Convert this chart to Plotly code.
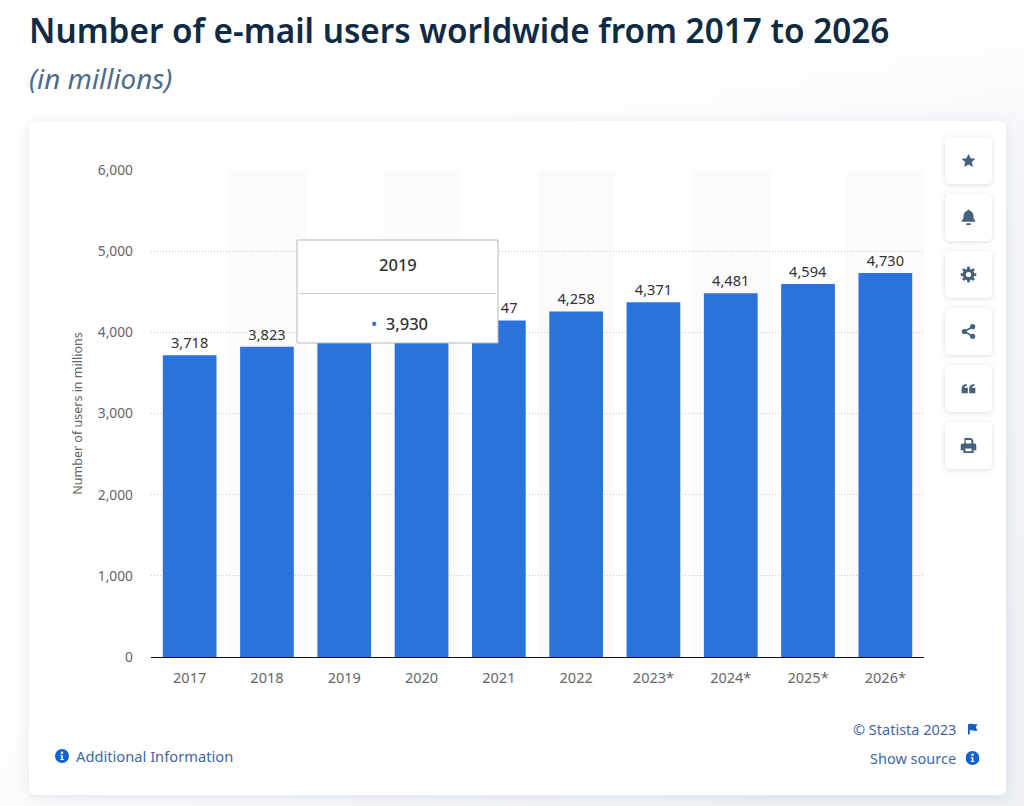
import base64
import plotly.graph_objects as go

years = ["2017", "2018", "2019", "2020", "2021", "2022", "2023*", "2024*", "2025*", "2026*"]
users = [3718, 3823, 3930, 4037, 4147, 4258, 4371, 4481, 4594, 4730]
y_ticks = [0, 1000, 2000, 3000, 4000, 5000, 6000]
y_tick_labels = ["0", "1,000", "2,000", "3,000", "4,000", "5,000", "6,000"]

W, H = 1024, 806
L, R, T, B = 151, 100, 170, 149
PW, PH = W - L - R, H - T - B
FONT = "Noto Sans"
BLUE = "#2b73dc"
LINK = "#3f67a8"
ICON = "#46607f"
button_tops = [137, 194, 251, 308, 365, 422]


def uri(svg):
    return "data:image/svg+xml;base64," + base64.b64encode(svg.encode()).decode()


def px(x):
    return (x - L) / PW


def py(y):
    return 1 - (y - T) / PH


def place(source, x, y, w, h, layer="above", sizing="contain"):
    return dict(source=source, xref="paper", yref="paper", x=px(x), y=py(y), sizex=w / PW, sizey=h / PH,
                xanchor="left", yanchor="top", layer=layer, sizing=sizing)


buttons = "".join(
    f'<rect x="945" y="{t}" width="47" height="47" rx="5" fill="#fff" filter="url(#s)"/>' for t in button_tops
)
background = f'''<svg xmlns="http://www.w3.org/2000/svg" width="{W}" height="{H}" viewBox="0 0 {W} {H}">
<defs>
<linearGradient id="g" x1="0" y1="0" x2="1" y2="0.75"><stop offset="0.35" stop-color="#ffffff"/><stop offset="1" stop-color="#eff1f6"/></linearGradient>
<linearGradient id="h" x1="0" y1="0" x2="0" y2="1"><stop offset="0" stop-color="#ffffff"/><stop offset="0.18" stop-color="#ffffff" stop-opacity="0"/></linearGradient>
<filter id="c" x="-5%" y="-5%" width="110%" height="110%"><feDropShadow dx="0" dy="2" stdDeviation="7" flood-color="#8090a8" flood-opacity="0.22"/></filter>
<filter id="s" x="-30%" y="-30%" width="160%" height="160%"><feDropShadow dx="0" dy="1" stdDeviation="2.5" flood-color="#8090a8" flood-opacity="0.3"/></filter>
</defs>
<rect width="{W}" height="{H}" fill="url(#g)"/>
<rect width="{W}" height="{H}" fill="url(#h)"/>
<rect x="29" y="121" width="977" height="674" rx="6" fill="#fff" filter="url(#c)"/>
{buttons}
</svg>'''

GEAR_TEETH = "".join(
    f'<rect x="10" y="0.500" width="4" height="23" rx="1" transform="rotate({a} 12 12)"/>' for a in (0, 45, 90, 135)
)
icons = [
    '<path d="M12 2l3 6.6 7.2.8-5.3 4.9 1.5 7.1L12 17.8 5.600 21.400l1.500-7.100L1.800 9.400 9 8.600z"/>',
    '<path d="M12 0.500c-1 0-1.700.7-1.700 1.600C6.300 3 4.800 6 4.800 9.500c0 3.800-1 5.500-2.600 7-.6.6-.2 1.800.8 1.800h18c1 0 1.400-1.200.8-1.800-1.600-1.500-2.600-3.200-2.600-7 0-3.500-1.500-6.500-5.500-7.400C13.700 1.200 13 .5 12 .5z"/><rect x="8.500" y="20.500" width="7" height="2.500" rx="1.200"/>',
    f'{GEAR_TEETH}<circle cx="12" cy="12" r="8.500"/><circle cx="12" cy="12" r="3.800" fill="#ffffff"/>',
    f'<circle cx="18" cy="5" r="3.800"/><circle cx="18" cy="19" r="3.800"/><circle cx="6" cy="12" r="3.800"/><path d="M18 5L6 12l12 7" fill="none" stroke="{ICON}" stroke-width="2.400"/>',
    '<path d="M2 12.500C2 8 4.500 5.800 9.500 5.500v2.700C7 8.400 6 9.300 5.800 11H11v8H2zM13 12.500C13 8 15.500 5.800 20.500 5.500v2.700C18 8.400 17 9.300 16.800 11H22v8h-9z"/>',
    '<path d="M6 1h10l3 3v5H16V4H8v5H6zM3.500 9h17A3 3 0 0 1 23.500 12v7H19.500v4h-15v-4H.5v-7A3 3 0 0 1 3.500 9zm4 7.500v4h9v-4z" fill-rule="evenodd"/>',
]


def icon_image(body, cx, cy, size):
    svg = f'<svg xmlns="http://www.w3.org/2000/svg" width="96" height="96" viewBox="0 0 24 24" fill="{ICON}">{body}</svg>'
    return place(uri(svg), cx - size / 2, cy - size / 2, size, size)


def info_image(cx, cy, size):
    svg = ('<svg xmlns="http://www.w3.org/2000/svg" width="96" height="96" viewBox="0 0 24 24">'
           '<circle cx="12" cy="12" r="12" fill="#0f62d6"/><circle cx="12" cy="6.500" r="2.200" fill="#fff"/>'
           '<path d="M9 10.500h4.500V17H15v2H9v-2h1.800v-4.500H9z" fill="#fff"/></svg>')
    return place(uri(svg), cx - size / 2, cy - size / 2, size, size)


flag_svg = ('<svg xmlns="http://www.w3.org/2000/svg" width="96" height="96" viewBox="0 0 24 24" fill="#1559c4">'
            '<rect x="3" y="2" width="3.500" height="21"/><path d="M6 2c5-2 8 2 16 0l-3.500 6.500L22 15c-7 2-11-2-16 0z"/></svg>')

images = [place(uri(background), 0, 0, W, H, layer="below", sizing="stretch")]
for body, t in zip(icons, button_tops):
    images.append(icon_image(body, 968.5, t + 23.5, 16.5))
images.append(info_image(62, 756, 14))
images.append(info_image(972.5, 758, 14))
images.append(place(uri(flag_svg), 966.5, 723, 12, 12))

fig = go.Figure(
    go.Bar(
        x=years,
        y=users,
        width=0.695,
        marker=dict(color=BLUE, line=dict(width=0)),
        text=[f"{v:,}" for v in users],
        textposition="outside",
        textfont=dict(family=FONT, size=14.6, color="#333333"),
        cliponaxis=False,
        hoverinfo="skip",
    )
)

shapes = []
for i in range(1, len(years), 2):
    shapes.append(dict(type="rect", xref="x", yref="y", x0=i - 0.5, x1=i + 0.5, y0=0, y1=y_ticks[-1],
                       fillcolor="#fbfbfb", line_width=0, layer="below"))
# tooltip box and its divider
shapes.append(dict(type="rect", xref="paper", yref="paper", x0=px(297), x1=px(498), y0=py(343), y1=py(240),
                   fillcolor="#ffffff", line=dict(color="#b8b8b8", width=1), layer="above"))
shapes.append(dict(type="line", xref="paper", yref="paper", x0=px(299), x1=px(496), y0=py(293.5), y1=py(293.5),
                   line=dict(color="#cccccc", width=1), layer="above"))


def note(text, x, y, size, color, anchor="left", **font):
    return dict(text=text, xref="paper", yref="paper", x=px(x), y=py(y), xanchor=anchor, yanchor="middle",
                showarrow=False, font=dict(family=FONT, size=size, color=color, **font))


annotations = [
    note("Number of e-mail users worldwide from 2017 to 2026", 27, 30, 33.3, "#0f2a43", weight=600),
    note("(in millions)", 27, 78.5, 27.8, "#4f6b88", style="italic"),
    note("2019", 397.5, 264.5, 16.5, "#333333", "center", weight=500),
    note("<span style='color:#2b73dc'>•</span>  3,930", 399, 323, 16.5, "#333333", "center", weight=500),
    note("© Statista 2023", 958, 729, 14.5, LINK, "right"),
    note("Show source", 958, 758, 14.5, LINK, "right"),
    note("Additional Information", 74, 756, 14.7, LINK),
]

fig.update_layout(
    width=W,
    height=H,
    autosize=False,
    margin=dict(l=L, r=R, t=T, b=B, pad=0),
    paper_bgcolor="rgba(0,0,0,0)",
    plot_bgcolor="rgba(0,0,0,0)",
    showlegend=False,
    font=dict(family=FONT),
    shapes=shapes,
    images=images,
    annotations=annotations,
    xaxis=dict(
        type="category",
        categoryorder="array",
        categoryarray=years,
        range=[-0.5, 9.5],
        showgrid=False,
        showline=True,
        linecolor="#111111",
        linewidth=1.2,
        ticks="",
        ticklabelstandoff=7,
        tickfont=dict(family=FONT, size=14.5, color="#666666"),
        fixedrange=True,
    ),
    yaxis=dict(
        range=[0, 6000],
        tickvals=y_ticks,
        ticktext=y_tick_labels,
        showgrid=True,
        gridcolor="#c9c9c9",
        griddash="1px,2px",
        gridwidth=1,
        zeroline=False,
        showline=False,
        ticks="",
        ticklabelstandoff=17,
        tickfont=dict(family=FONT, size=13.8, color="#666666"),
        title=dict(text="Number of users in millions", font=dict(family=FONT, size=12.5, color="#666666"), standoff=12),
        fixedrange=True,
    ),
)

fig.write_html(
    "out.html",
    config={"displayModeBar": False},
    post_script="document.body.style.margin='0';document.documentElement.style.overflow='hidden';",
)
